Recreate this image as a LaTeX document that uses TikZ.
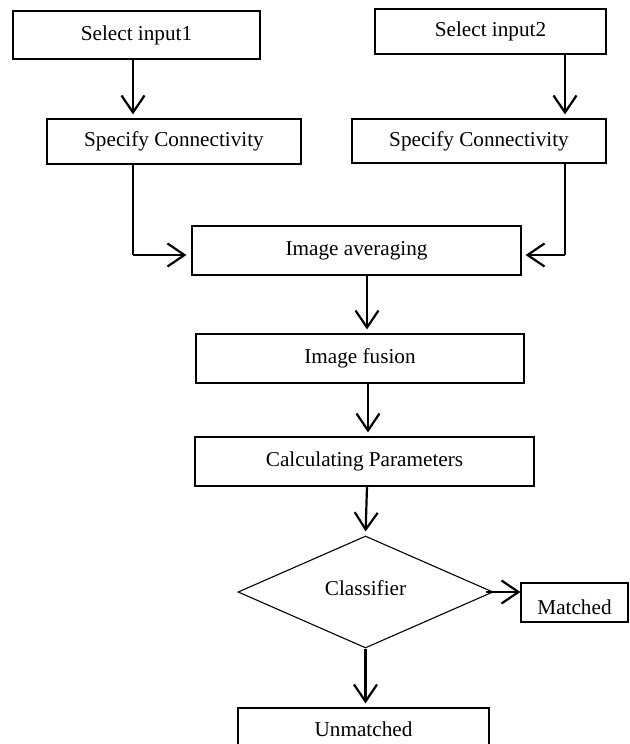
\documentclass[tikz,border=0pt]{standalone}
\usepackage{fontspec}
\setmainfont{Liberation Serif}
\usetikzlibrary{arrows.meta,shapes.geometric}
\begin{document}
\begin{tikzpicture}[x=1pt,y=-1pt,
  box/.style={draw,line width=1.1pt,rectangle,inner sep=0pt,font=\fontsize{21.2}{25}\selectfont},
  dia/.style={draw,line width=1.1pt,diamond,inner sep=0pt},
  lbl/.style={font=\fontsize{21.2}{25}\selectfont,inner sep=0pt},
  arr/.style={line width=2.2pt,-{Straight Barb[length=17pt,width=23pt]}},
  thinline/.style={line width=1.3pt}]
\useasboundingbox (0,0) rectangle (629,744);
\node[box,line width=1.8pt,minimum width=247pt,minimum height=48pt] (in1) at (136.5,35) {Select input1};
\node[box,minimum width=231pt,minimum height=45pt] (in2) at (490.5,31.5) {Select input2};
\node[box,minimum width=254pt,minimum height=45pt] (sc1) at (174,141.5) {Specify Connectivity};
\node[box,minimum width=254pt,minimum height=44pt] (sc2) at (479,141) {Specify Connectivity};
\node[box,minimum width=329pt,minimum height=49pt] (avg) at (356.5,250.5) {Image averaging};
\node[box,minimum width=328pt,minimum height=49pt] (fus) at (360,358.5) {Image fusion};
\node[box,minimum width=339pt,minimum height=49pt] (calc) at (364.5,461.5) {Calculating Parameters};
\node[dia,minimum width=255pt,minimum height=112pt] (cls) at (365.5,592) {};
\node[lbl] (clst) at (365.5,588) {Classifier};
\node[box,minimum width=107pt,minimum height=39pt] (mat) at (574.5,602.5) {};
\node[lbl] (matt) at (574.5,607) {Matched};
\node[box,minimum width=251pt,minimum height=48pt] (unm) at (363.5,732) {};
\node[lbl] (unmt) at (363.5,729) {Unmatched};
% arrows
\draw[arr,shorten >=4pt] ([xshift=-3.5pt]in1.south) -- ([xshift=-3.5pt]in1.south |- sc1.north);
\draw[arr,shorten >=4pt] ([xshift=74.5pt]in2.south) -- ([xshift=74.5pt]in2.south |- sc2.north);
\coordinate (s1) at ([xshift=-41pt]sc1.south);
\coordinate (a1) at ([yshift=-4.5pt]avg.west);
\draw[thinline] (s1) -- (s1 |- a1) coordinate (c1);
\draw[arr,shorten >=5pt] (c1) -- (a1);
\coordinate (s2) at ([xshift=86pt]sc2.south);
\coordinate (a2) at ([yshift=-4.5pt]avg.east);
\draw[thinline] (s2) -- (s2 |- a2) coordinate (c2);
\draw[arr,shorten >=4pt] (c2) -- (a2);
\draw[arr,shorten >=4pt] ([xshift=10.5pt]avg.south) -- ([xshift=10.5pt]avg.south |- fus.north);
\draw[arr,shorten >=4pt] ([xshift=8pt]fus.south) -- ([xshift=8pt]fus.south |- calc.north);
\draw[arr,shorten >=4pt] ([xshift=2.5pt]calc.south) -- (cls.north);
\draw[arr] ([xshift=-8pt]cls.east) -- (cls.east -| mat.west);
\draw[arr,shorten >=4pt] (cls.south) -- (cls.south |- unm.north);
\end{tikzpicture}
\end{document}
